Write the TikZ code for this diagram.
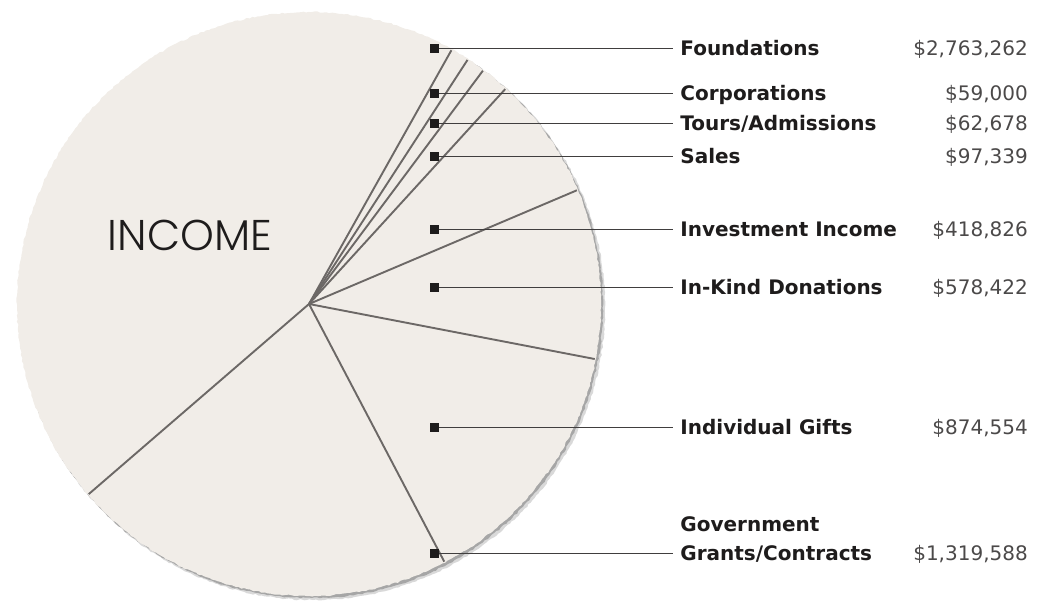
\documentclass[tikz,border=0pt]{standalone}
\usepackage{fontspec}
\setmainfont{DejaVu Sans}
\newfontfamily\incomefont{Poppins Light}
\usetikzlibrary{positioning, decorations.pathmorphing}
\definecolor{paper}{RGB}{241,237,232}
\definecolor{spokegray}{RGB}{108,104,102}
\definecolor{ink}{RGB}{30,28,28}

\begin{document}
\begin{tikzpicture}[x=1pt, y=1pt,
  rim/.style={decorate, decoration={random steps, segment length=3pt, amplitude=0.7pt}},
  spoke/.style={draw=spokegray, line width=1.9pt},
  dot/.style={rectangle, fill=ink, minimum size=9pt, inner sep=0pt},
  leader/.style={draw=ink!85, line width=1.7pt},
  source/.style={anchor=west, inner xsep=7pt, inner ysep=0pt, text height=14.5pt, text depth=0pt, font=\fontsize{20}{24}\selectfont\bfseries, text=ink},
  amount/.style={anchor=east, inner sep=0pt, text height=14.5pt, text depth=0pt, font=\fontsize{20}{24}\selectfont, text=ink!80}]
\useasboundingbox (0,0) rectangle (1047,601);

% the paper disc
\fill[black!15, rim] (312.5,293.5) circle (292.5);
\fill[black!35, rim] (311,295) circle (292);
\fill[paper, rim] (309,297) circle (292);
\coordinate (c) at (309,297);
\foreach \a in {60.7,57.0,53.3,47.6,23.0,-10.9,-62.3,-139.2}
  \draw[spoke] (c) -- ++(\a:291);

\node[font=\incomefont\fontsize{43}{43}\selectfont, text=ink, inner sep=0pt] (title) at (190,366) {INCOME};

% markers in the slices
\node[dot] (m1) at (434.5,552.5) {};
\node[dot] (m2) at (434.5,507.5) {};
\node[dot] (m3) at (434.5,477.5) {};
\node[dot] (m4) at (434.5,444.5) {};
\node[dot] (m5) at (434.5,371.5) {};
\node[dot] (m6) at (434.5,313.5) {};
\node[dot] (m7) at (434.5,173.5) {};
\node[dot] (m8) at (434.5,47.5) {};

% sources
\node[source, right=234pt of m1] (n1) {Foundations};
\node[source, right=234pt of m2] (n2) {Corporations};
\node[source, right=234pt of m3] (n3) {Tours/Admissions};
\node[source, right=234pt of m4] (n4) {Sales};
\node[source, right=234pt of m5] (n5) {Investment Income};
\node[source, right=234pt of m6] (n6) {In-Kind Donations};
\node[source, right=234pt of m7] (n7) {Individual Gifts};
\node[source, right=234pt of m8] (n8) {Grants/Contracts};
\node[source, anchor=base west] (n8a) at ([yshift=29pt]n8.base west) {Government};

% amounts
\node[amount] (v1) at (1028,552.5) {\$2,763,262};
\node[amount] (v2) at (1028,507.5) {\$59,000};
\node[amount] (v3) at (1028,477.5) {\$62,678};
\node[amount] (v4) at (1028,444.5) {\$97,339};
\node[amount] (v5) at (1028,371.5) {\$418,826};
\node[amount] (v6) at (1028,313.5) {\$578,422};
\node[amount] (v7) at (1028,173.5) {\$874,554};
\node[amount] (v8) at (1028,47.5) {\$1,319,588};

\draw[leader] (m1) -- (n1);
\draw[leader] (m2) -- (n2);
\draw[leader] (m3) -- (n3);
\draw[leader] (m4) -- (n4);
\draw[leader] (m5) -- (n5);
\draw[leader] (m6) -- (n6);
\draw[leader] (m7) -- (n7);
\draw[leader] (m8) -- (n8);
\end{tikzpicture}
\end{document}
